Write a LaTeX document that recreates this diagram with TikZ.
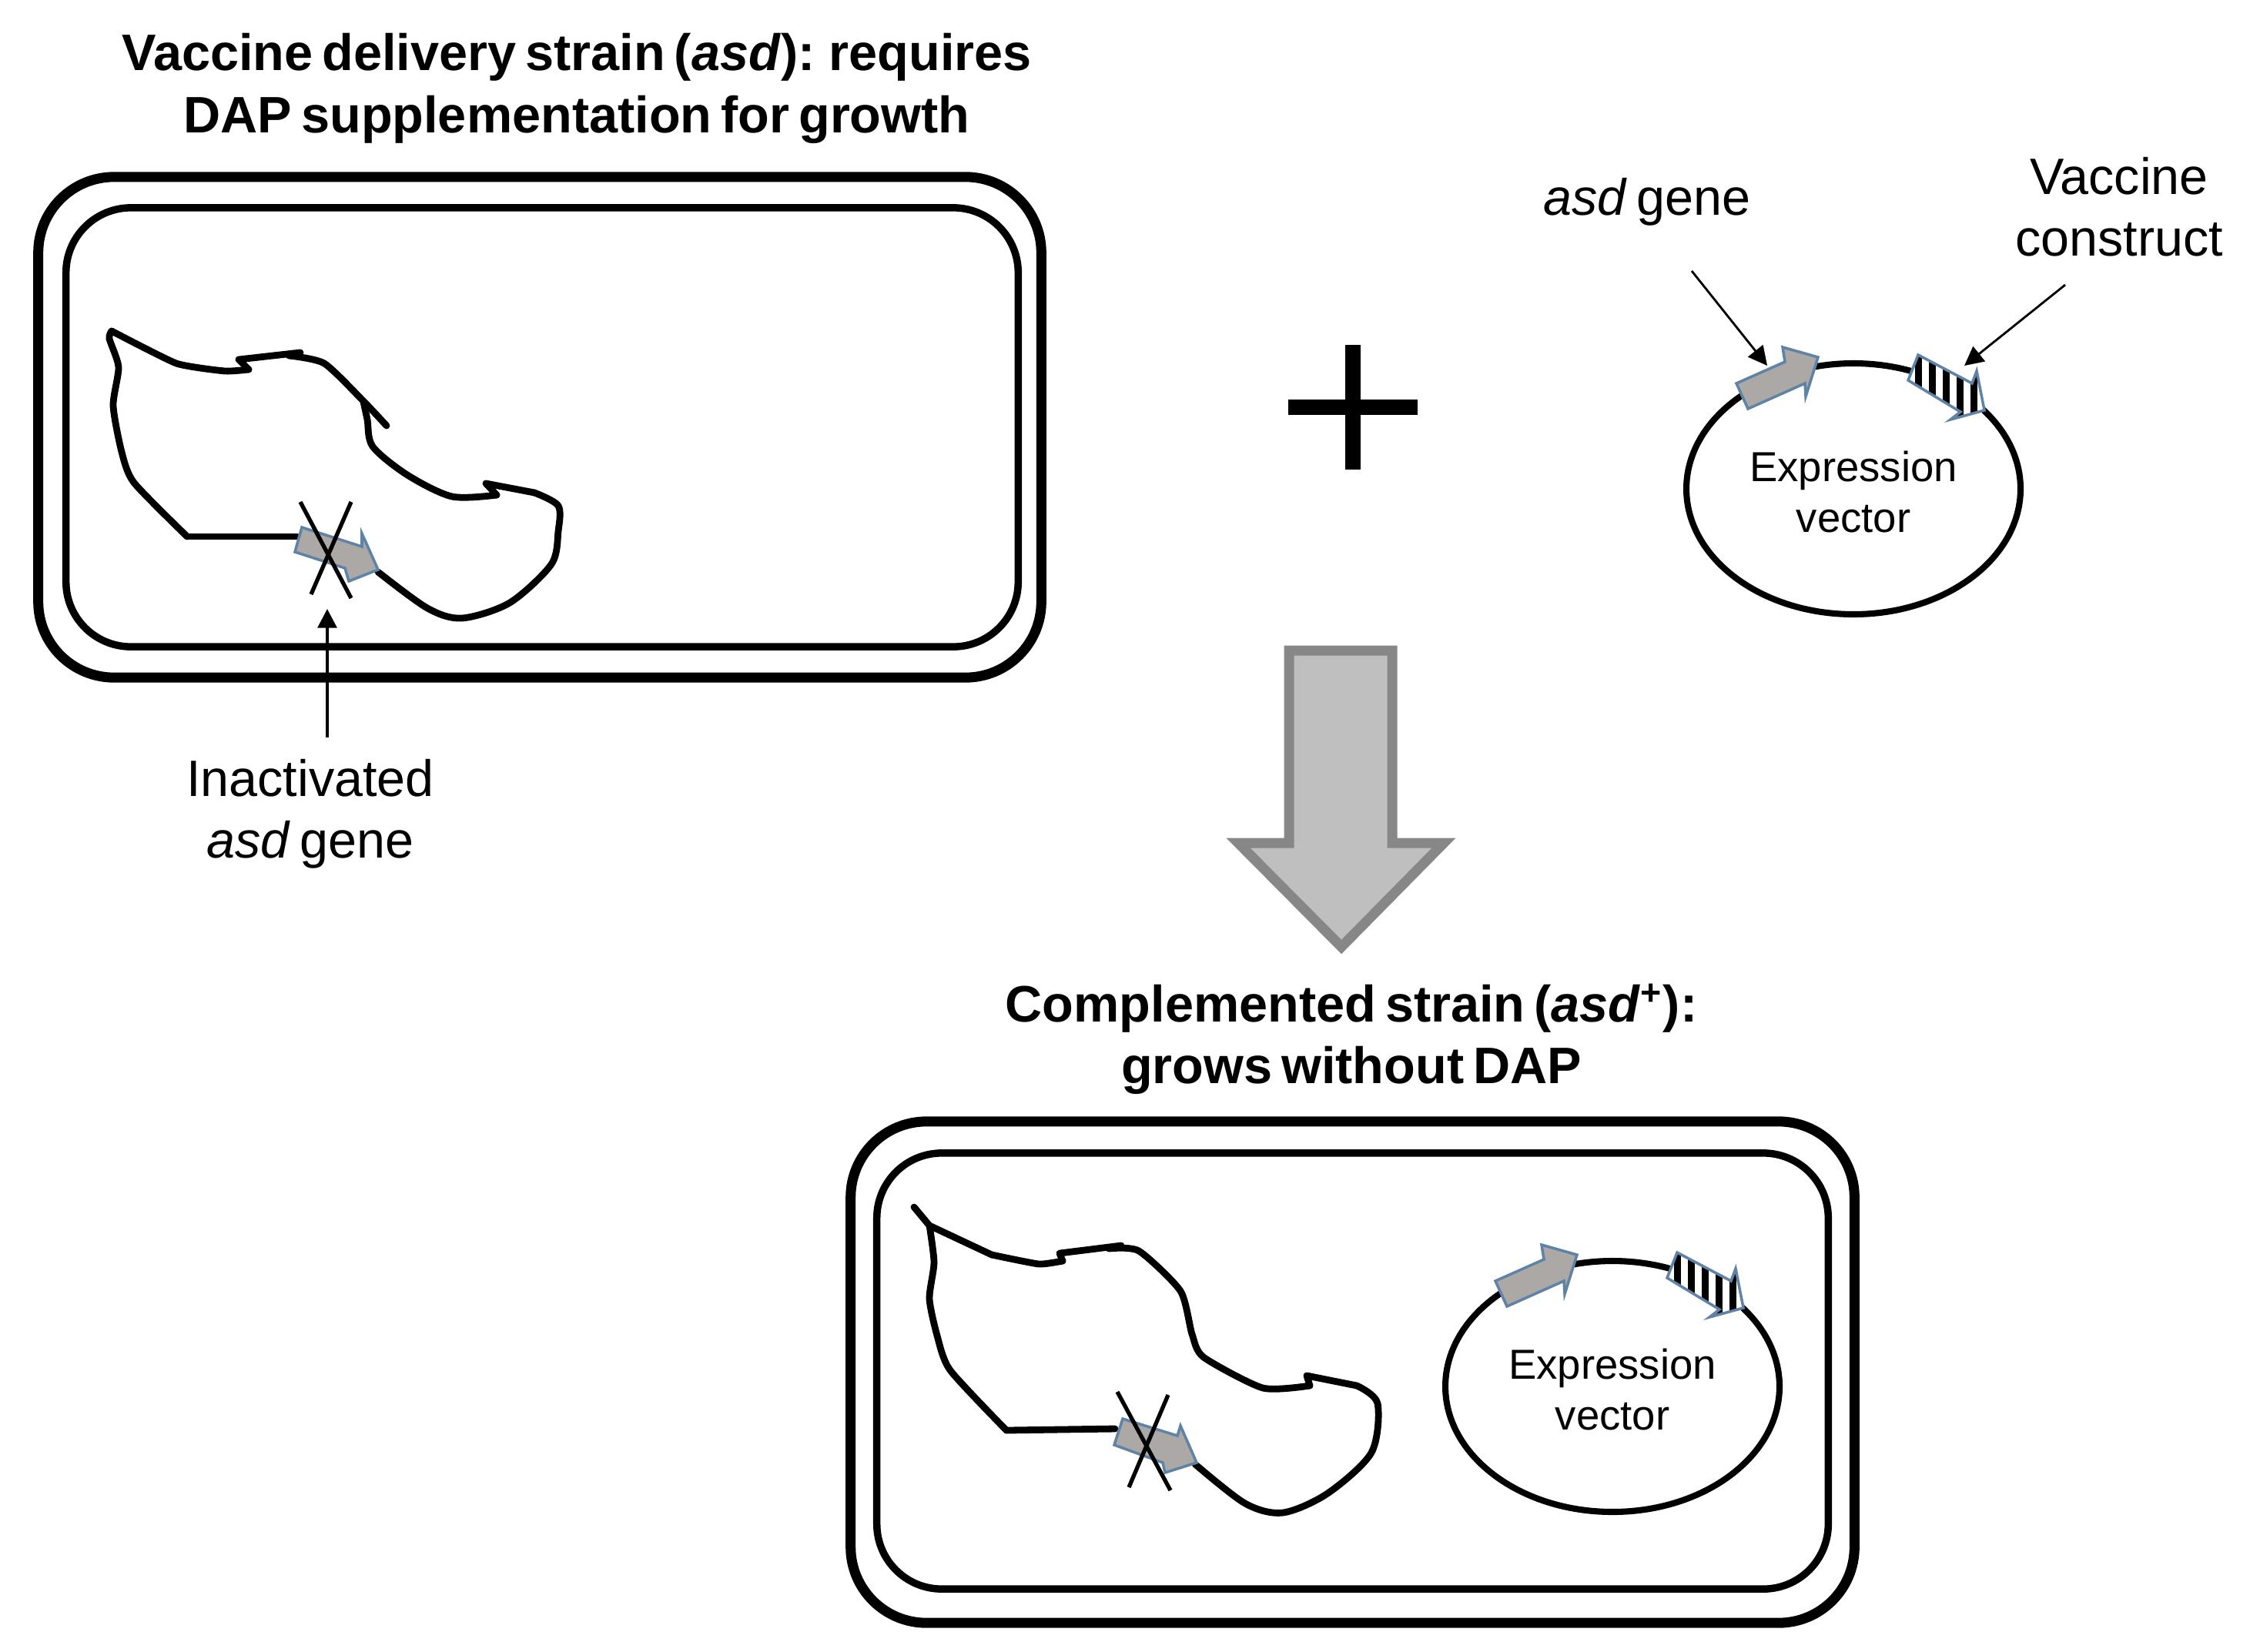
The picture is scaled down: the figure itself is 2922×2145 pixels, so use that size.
\documentclass[tikz,border=0pt]{standalone}
\usepackage{fontspec}
\setmainfont[WordSpace=0.65]{Liberation Sans}
\usetikzlibrary{arrows.meta,shapes.geometric}
\definecolor{genefill}{HTML}{ABA8A6}
\definecolor{geneline}{HTML}{5F83A6}
\definecolor{bigfill}{HTML}{BFBFBF}
\definecolor{bigline}{HTML}{878787}
\tikzset{
	labeltext/.style={align=center, inner sep=0pt, font=\fontsize{18.9}{22.8}\selectfont},
	titletext/.style={align=center, inner sep=0pt, font=\fontsize{18.95}{22.8}\selectfont\bfseries},
	vectortext/.style={align=center, inner sep=0pt, font=\fontsize{15.5}{18.8}\selectfont},
	cellouter/.style={draw, line width=3.7pt, rounded corners=28pt},
	cellinner/.style={draw, line width=2.7pt, rounded corners=24pt},
	chromline/.style={line width=2.5pt, line join=round, line cap=round},
	genearrow/.style={fill=genefill, draw=geneline, line width=1pt, line join=miter},
	crossline/.style={line width=1.5pt},
	thinarrow/.style={-{Triangle[length=7pt,width=7pt]}, line width=0.8pt},
	vectorbody/.style={draw, ellipse, line width=2.3pt, inner sep=0pt, minimum width=123.4pt, minimum height=92.7pt},
	expvector/.pic={
		\node[vectorbody] (-body) at (0,0) {};
		\node[vectortext] (-text) at (0,4) {Expression\\vector};
		% Gene asd
		\draw[genearrow] (-152,-137) -- (-89,-165) -- (-92,-184) -- (-46,-171) -- (-62,-120) -- (-63,-137) -- (-137,-104) -- cycle;
		% Costrutto a righe
		\fill[white] (84,-174) -- (154,-137) -- (160,-153) -- (170,-102) -- (126,-90) -- (139,-100) -- (71,-141) -- cycle;
		\begin{scope}
			\clip (84,-174) -- (154,-137) -- (160,-153) -- (170,-102) -- (126,-90) -- (139,-100) -- (71,-141) -- cycle;
			\foreach \s in {0,...,5} \fill[black] (80+18*\s,-190) rectangle (89+18*\s,-80);
		\end{scope}
		\draw[geneline, line width=1pt] (84,-174) -- (154,-137) -- (160,-153) -- (170,-102) -- (126,-90) -- (139,-100) -- (71,-141) -- cycle;
	}
}
\begin{document}
\begin{tikzpicture}[x=0.01cm, y=-0.01cm]
	\useasboundingbox (0,0) rectangle (2922,2145);

	% Ceppo in alto
	\node[titletext] (titleA) at (749,115) {Vaccine delivery strain (\textit{asd}): requires\\DAP supplementation for growth};
	\node[cellouter, minimum width=1302*0.2845pt, minimum height=650*0.2845pt] (cellAout) at (701,555) {};
	\node[cellinner, minimum width=1236*0.2845pt, minimum height=570*0.2845pt] (cellAin) at (704,555) {};

	% Cromosoma in alto
	\draw[chromline] plot[smooth, tension=0.4] coordinates {(145,430) (142,440) (154,477) (147,527) (158,587) (174,627) (243,697)};
	\draw[chromline] (243,697) -- (386,697);
	\draw[chromline] plot[smooth, tension=0.3] coordinates {(145,430) (229,472) (292,482) (323,480)};
	\draw[chromline] (323,480) -- (310,467) -- (390,458);
	\draw[chromline] plot[smooth, tension=0.4] coordinates {(375,462) (421,472) (471,520) (502,553)};
	\draw[chromline] plot[smooth, tension=0.5] coordinates {(472,522) (477,545) (484,580) (529,617) (587,645) (645,643)};
	\draw[chromline] (645,643) -- (631,628) -- (694,640);
	\draw[chromline] plot[smooth, tension=0.5] coordinates {(694,640) (725,657) (725,690) (716,733) (662,783) (600,803) (555,790) (491,743)};
	\draw[genearrow] (392,685) -- (470,710) -- (470,693) -- (491,740) -- (453,755) -- (448,738) -- (383,717) -- cycle;
	\draw[crossline] (390,652) -- (456,777);
	\draw[crossline] (456,652) -- (404,772);

	% Etichetta gene inattivato
	\node[labeltext] (inactlabel) at (403,1057) {Inactivated\\\textit{asd} gene};
	\coordinate (inacttail) at (425,958);
	\coordinate (inacttip) at (425,791);
	\draw[thinarrow, line width=1.2pt] (inacttail) -- (inacttip);

	% Piu
	\draw[line width=5.6pt] (1673,529) -- (1841,529);
	\draw[line width=5.6pt] (1757,448) -- (1757,610);

	% Vettore in alto
	\pic (vecA) at (2407,635) {expvector};
	\node[labeltext] (asdlabel) at (2139,262) {\textit{asd} gene};
	\node[labeltext] (constrlabel) at (2752,269) {Vaccine\\construct};
	\coordinate (asdtail) at (2197,352);
	\coordinate (asdtip) at (2295,475);
	\coordinate (constrtail) at (2682,370);
	\coordinate (constrtip) at (2551,475);
	\draw[thinarrow] (asdtail) -- (asdtip);
	\draw[thinarrow] (constrtail) -- (constrtip);

	% Freccia grande
	\draw[fill=bigfill, draw=bigline, line width=3.7pt, line join=miter] (1674,845) -- (1808,845) -- (1808,1095) -- (1875,1095) -- (1742,1230) -- (1608,1095) -- (1674,1095) -- cycle;

	% Ceppo in basso
	\node[titletext] (titleB) at (1755,1350) {Complemented strain (\textit{asd}\textsuperscript{+}):\\grows without DAP};
	\node[cellouter, minimum width=1303*0.2845pt, minimum height=651*0.2845pt] (cellBout) at (1756.5,1782.5) {};
	\node[cellinner, minimum width=1235*0.2845pt, minimum height=566*0.2845pt] (cellBin) at (1756.5,1781) {};

	% Cromosoma in basso
	\draw[chromline] plot[smooth, tension=0.4] coordinates {(1207,1592) (1213,1640) (1207,1687) (1217,1735) (1234,1780) (1307,1858)};
	\draw[chromline] (1307,1858) -- (1448,1856);
	\draw[chromline] (1187,1568) -- (1207,1592) -- (1288,1630);
	\draw[chromline] plot[smooth, tension=0.3] coordinates {(1288,1630) (1349,1642) (1380,1638)};
	\draw[chromline] (1380,1638) -- (1376,1628) -- (1456,1618);
	\draw[chromline] plot[smooth, tension=0.4] coordinates {(1440,1622) (1479,1625) (1533,1677) (1548,1733) (1563,1763) (1640,1803) (1701,1800)};
	\draw[chromline] (1701,1800) -- (1697,1787) -- (1762,1800);
	\draw[chromline] plot[smooth, tension=0.5] coordinates {(1762,1800) (1789,1823) (1781,1887) (1724,1940) (1666,1965) (1617,1953) (1552,1902)};
	\draw[genearrow] (1458,1843) -- (1529,1865) -- (1533,1852) -- (1554,1900) -- (1513,1913) -- (1510,1900) -- (1447,1877) -- cycle;
	\draw[crossline] (1451,1808) -- (1520,1936);
	\draw[crossline] (1517,1812) -- (1466,1932);

	% Vettore in basso
	\pic (vecB) at (2094,1801) {expvector};
\end{tikzpicture}
\end{document}
